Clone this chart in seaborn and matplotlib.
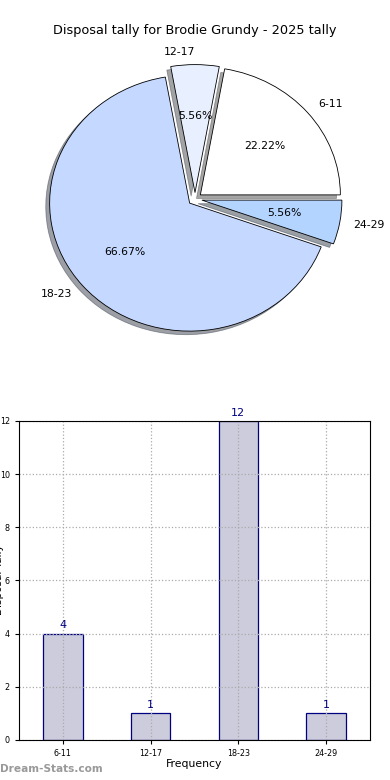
import matplotlib
matplotlib.use("Agg")
import matplotlib.pyplot as plt
import seaborn as sns
import pandas as pd

categories = ["6-11", "12-17", "18-23", "24-29"]
counts = [4, 1, 12, 1]
pie_colors = ["#ffffff", "#e8f0ff", "#c5d8ff", "#b3d4ff"]
title = "Disposal tally for Brodie Grundy - 2025 tally"

sns.set_style("white")
plt.rcParams['font.family'] = ['DejaVu Sans']
plt.rcParams.update({"text.color": "black", "axes.labelcolor": "black",
                     "xtick.color": "black", "ytick.color": "black"})

fig = plt.figure(figsize=(3.9, 7.8), dpi=100)

# Pie (not equal aspect: slightly squashed as in the reference)
ax1 = fig.add_axes([20 / 390, 1 - 359 / 780, 350 / 390, 320 / 780])
ax1.pie(counts, labels=categories, colors=pie_colors, autopct="%.2f%%",
        startangle=0, counterclock=True, explode=[0.05] * 4, shadow=True,
        wedgeprops=dict(edgecolor="black", linewidth=0.6),
        textprops=dict(fontsize=7.8, color="black"))
ax1.set_aspect("auto")
ax1.set_xlim(-1.25, 1.25)
ax1.set_ylim(-1.25, 1.25)
fig.text(0.5, 0.961, title, ha="center", va="center", fontsize=9.3)

# Bar
df = pd.DataFrame({"cat": categories, "val": counts})
ax2 = fig.add_axes([0.0487, 0.0513, 0.9, 0.409])
sns.barplot(data=df, x="cat", y="val", ax=ax2, color="#ccccdd",
            edgecolor="navy", linewidth=0.9, width=0.45, saturation=1)
ax2.set_xlim(-0.5, 3.5)
ax2.set_ylim(0, 12)
ax2.set_yticks(range(0, 13, 2))
ax2.grid(True, linestyle=":", color="#aaaaaa", linewidth=0.9)
ax2.set_axisbelow(False)
for sp in ax2.spines.values():
    sp.set_visible(True)
    sp.set_color("black")
    sp.set_linewidth(0.8)
    sp.set_zorder(10)
ax2.tick_params(labelsize=5.8, length=3, direction="out", left=True, bottom=True, color="black")
ax2.set_xlabel("Frequency", fontsize=7.8, labelpad=1)
ax2.set_ylabel("")
for i, v in enumerate(counts):
    ax2.text(i, v + 0.12, str(v), ha="center", va="bottom", color="navy", fontsize=8)
fig.text(-0.003, 0.257, "Disposal Tally", rotation=90, ha="center", va="center", fontsize=7.5)
fig.text(0.0, 0.008, "Dream-Stats.com", ha="left", va="bottom", fontsize=7.6,
         color="#999999", fontweight="bold")

fig.savefig("out.png", dpi=100)
